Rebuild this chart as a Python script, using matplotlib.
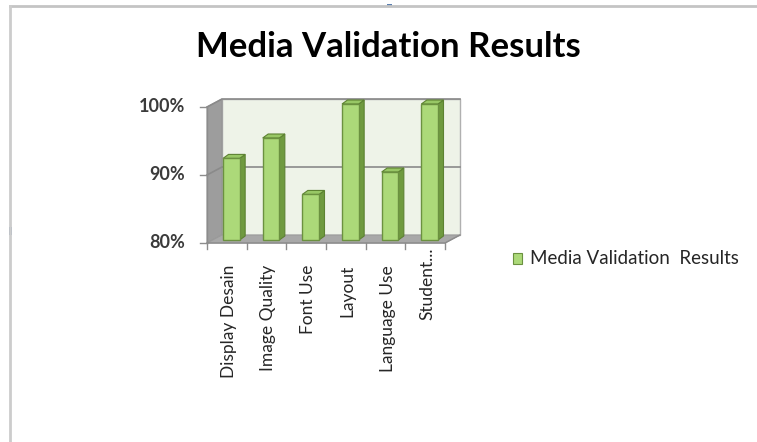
import matplotlib.pyplot as plt
from matplotlib.patches import Polygon, Rectangle
from matplotlib.lines import Line2D
from matplotlib.transforms import IdentityTransform

# chart data
categories = ["Display Desain", "Image Quality", "Font Use", "Layout", "Language Use", "Student..."]
values = [92, 95, 86.7, 100, 90, 100]
y_ticks = [80, 90, 100]
y_tick_labels = ["80%", "90%", "100%"]
series_name = "Media Validation  Results"
chart_title = "Media Validation Results"

W, H = 757, 442
fig = plt.figure(figsize=(W / 100, H / 100), dpi=100)
fig.patch.set_facecolor("white")

# front face of the plot box, in pixels
left, right, top, bottom = 207, 445, 107, 243
ax = fig.add_axes([left / W, 1 - bottom / H, (right - left) / W, (bottom - top) / H])
ax.set_xlim(-0.5, len(categories) - 0.5)
ax.set_ylim(y_ticks[0], y_ticks[-1])
ax.axis("off")

ident = IdentityTransform()
DX, DY = 15, 8          # depth of the walls (px)
BOX, BOY = 4.5, 3       # bar front offset inside the floor
BDX, BDY = 5.5, 4       # bar depth

def pt(x, y, ox=0, oy=0):
    X, Y = ax.transData.transform((x, y))
    return (X + ox, Y + oy)

def poly(points, fc, ec="none", lw=0.8, z=1):
    fig.add_artist(Polygon(points, closed=True, facecolor=fc, edgecolor=ec,
                           linewidth=lw, transform=ident, zorder=z))

x0, x1 = -0.5, len(categories) - 0.5
y0, y1 = y_ticks[0], y_ticks[-1]

# back wall
poly([pt(x0, y0, DX, DY), pt(x1, y0, DX, DY), pt(x1, y1, DX, DY), pt(x0, y1, DX, DY)],
     "#eef3e8", ec="#b0b0b0", lw=1.0, z=1)
# left wall
poly([pt(x0, y0), pt(x0, y0, DX, DY), pt(x0, y1, DX, DY), pt(x0, y1)],
     "#9d9d9d", ec="#959595", lw=0.8, z=1.1)
# floor
poly([pt(x0, y0), pt(x1, y0), pt(x1, y0, DX, DY), pt(x0, y0, DX, DY)],
     "#a8a8a8", ec="#9a9a9a", lw=0.8, z=1.1)

# gridlines on back wall and left wall
for v in y_ticks[1:]:
    a = pt(x0, v); b = pt(x0, v, DX, DY); c = pt(x1, v, DX, DY)
    fig.add_artist(Line2D([a[0], b[0], c[0]], [a[1], b[1], c[1]], color="#8a8a8a",
                          linewidth=1.2, transform=ident, zorder=1.2))

# axis lines and ticks
a = pt(x0, y0); b = pt(x0, y1)
fig.add_artist(Line2D([a[0], b[0]], [a[1], b[1]], color="#8c8c8c", lw=1.0, transform=ident, zorder=1.3))
a = pt(x0, y0); b = pt(x1, y0); c = pt(x1, y0, DX, DY)
fig.add_artist(Line2D([a[0], b[0], c[0]], [a[1], b[1], c[1]], color="#8c8c8c", lw=1.0, transform=ident, zorder=1.3))
for v, lab in zip(y_ticks, y_tick_labels):
    p = pt(x0, v)
    fig.add_artist(Line2D([p[0] - 7, p[0]], [p[1], p[1]], color="#8c8c8c", lw=1.0, transform=ident, zorder=1.3))
    fig.text((p[0] - 22) / W, p[1] / H, lab, ha="right", va="center",
             fontsize=13, family="Lato", fontweight="bold", color="#3b3b3b")
for i in range(len(categories) + 1):
    p = pt(i - 0.5, y0)
    fig.add_artist(Line2D([p[0], p[0]], [p[1], p[1] - 6], color="#8c8c8c", lw=1.0, transform=ident, zorder=1.3))

# bars
bar_w = 0.42
for i, v in enumerate(values):
    bl, br = i - bar_w / 2, i + bar_w / 2
    front = [pt(bl, y0, BOX, BOY), pt(br, y0, BOX, BOY), pt(br, v, BOX, BOY), pt(bl, v, BOX, BOY)]
    side = [pt(br, y0, BOX, BOY), pt(br, y0, BOX + BDX, BOY + BDY),
            pt(br, v, BOX + BDX, BOY + BDY), pt(br, v, BOX, BOY)]
    topf = [pt(bl, v, BOX, BOY), pt(br, v, BOX, BOY),
            pt(br, v, BOX + BDX, BOY + BDY), pt(bl, v, BOX + BDX, BOY + BDY)]
    poly(side, "#6f9a3f", ec="#5d8232", lw=0.8, z=2)
    poly(topf, "#98c765", ec="#5d8232", lw=0.8, z=2)
    poly(front, "#acd979", ec="#6b9140", lw=1.0, z=2.1)

# category labels
for i, lab in enumerate(categories):
    p = pt(i, y0)
    off = 5 if lab.endswith("...") else 22
    fig.text((p[0] + 2) / W, (p[1] - off) / H, lab, rotation=90, ha="center", va="top",
             fontsize=12.5, family="Lato", color="#262626")

# title
fig.text(388 / W, 1 - 57 / H, chart_title, ha="center", va="baseline",
         fontsize=25, family="Lato", fontweight="bold", color="black")

# legend
fig.add_artist(Rectangle((513, H - 264), 9, 11, facecolor="#acd979", edgecolor="#6b9140",
                         linewidth=0.8, transform=ident))
fig.text(530 / W, 1 - 258 / H, series_name, ha="left", va="center",
         fontsize=13.5, family="Lato", color="#262626")

# frame lines of the embedding document
fig.add_artist(Line2D([10, W], [H - 6, H - 6], color="#c4c4c4", lw=2, transform=ident))
fig.add_artist(Line2D([10, 10], [H - 6, 0], color="#cccccc", lw=2, transform=ident))
fig.add_artist(Rectangle((387, H - 7), 5, 3, facecolor="#5b7fb0", edgecolor="none", transform=ident))
fig.add_artist(Rectangle((9, H - 235), 3, 8, facecolor="#5b7fb0", edgecolor="none", transform=ident))

fig.savefig("out.png", dpi=100)
